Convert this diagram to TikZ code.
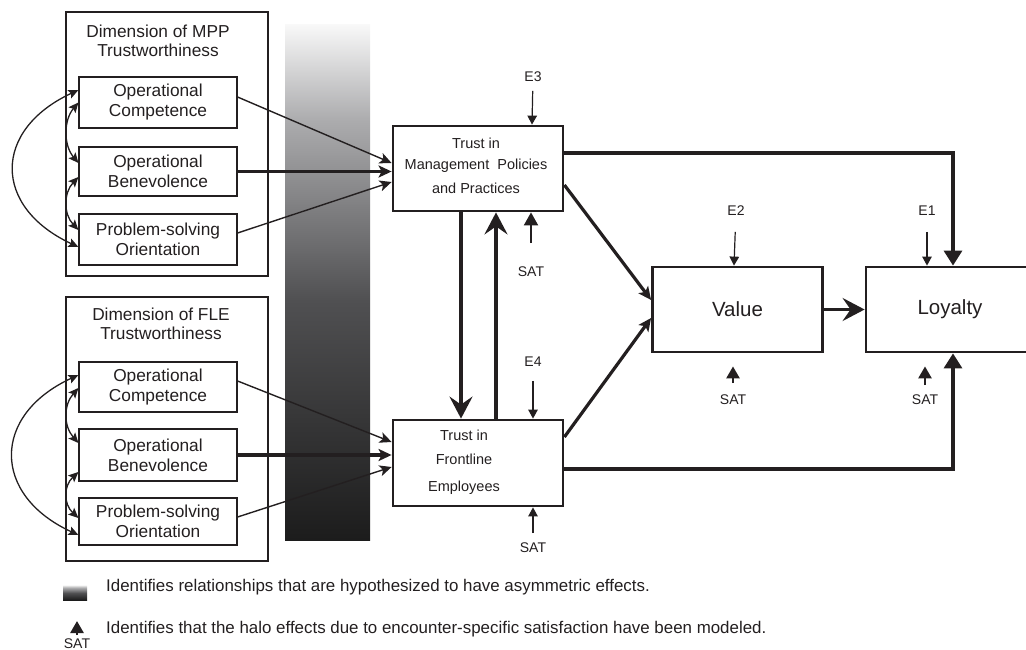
\documentclass[tikz,border=0pt]{standalone}
\usepackage{fontspec}
\setmainfont{Liberation Sans}
\usetikzlibrary{arrows.meta}
\definecolor{tqInk}{HTML}{231F20}
\definecolor{tqShadeA}{HTML}{F8F8F8}
\definecolor{tqShadeB}{HTML}{ACACAE}
\definecolor{tqShadeC}{HTML}{505052}
\definecolor{tqShadeD}{HTML}{1C1C1C}
% band runs 25bp (bottom) to 75bp (top), as TikZ stretches it
\pgfdeclareverticalshading{tqasym}{100bp}{color(0bp)=(tqShadeD); color(25bp)=(tqShadeD); color(48.3bp)=(tqShadeC); color(65.8bp)=(tqShadeB); color(75bp)=(tqShadeA); color(100bp)=(tqShadeA)}
\tikzset{
  tq dim/.style={draw=tqInk, line width=2.8pt, minimum width=202pt, minimum height=264pt, inner sep=0pt},
  tq title/.style={align=center, text=tqInk, font=\fontsize{17.3}{19}\selectfont},
  tq facet/.style={draw=tqInk, line width=1.2pt, minimum width=158pt, align=center, text=tqInk, font=\fontsize{17.3}{20}\selectfont},
  tq trust/.style={draw=tqInk, line width=2.8pt, minimum width=170pt, minimum height=85pt},
  tq trust text/.style={align=center, text=tqInk},
  tq construct/.style={draw=tqInk, line width=2.8pt, minimum width=170pt, minimum height=85pt, text=tqInk, font=\fontsize{20.5}{24}\selectfont},
  tq tag/.style={inner sep=0pt, outer sep=0pt, text=tqInk, font=\fontsize{14}{16}\selectfont},
  tq legend/.style={anchor=west, inner sep=0pt, text=tqInk, font=\fontsize{16.9}{19}\selectfont},
  tq curve/.style={draw=tqInk, line width=1.3pt, {Stealth[length=10pt,width=9pt,inset=2pt]}-{Stealth[length=10pt,width=9pt,inset=2pt]}},
  tq thin/.style={draw=tqInk, line width=1.4pt, -{Stealth[length=12pt,width=11pt,inset=3pt]}},
  tq thick/.style={draw=tqInk, line width=3.2pt, -{Stealth[length=13pt,width=12pt,inset=3pt]}},
  tq bold/.style={draw=tqInk, line width=3.3pt, -{Stealth[length=22pt,width=23pt,inset=8pt]}},
  tq loyal/.style={draw=tqInk, line width=3.3pt, -{Triangle[length=15pt,width=18pt]}},
  tq err/.style={draw=tqInk, line width=1.2pt, -{Triangle[length=9pt,width=9.5pt]}},
  tq halo/.style={draw=tqInk, line width=2.6pt, -{Triangle[length=12pt,width=13pt]}},
}

\begin{document}
\begin{tikzpicture}[x=1pt, y=-1pt, line join=miter]
  \useasboundingbox (0,0) rectangle (1026,650);
  \clip (0,0) rectangle (1026,650);

  % asymmetric-effects band
  \shade[shading=tqasym] (285,25) rectangle (370,540);

  % MPP trustworthiness block
  \node[tq dim] (mppDim) at (167,144) {};
  \node[tq title] (mppTitle) at (158,41) {Dimension of MPP\\Trustworthiness};
  \node[tq facet, minimum height=51pt] (mppOC) at (158,102.5) {Operational\\Competence};
  \node[tq facet, minimum height=49pt] (mppOB) at (158,171.5) {Operational\\Benevolence};
  \node[tq facet, minimum height=51pt] (mppPS) at (158,239.5) {Problem-solving\\Orientation};
  \draw[tq curve] ([yshift=12.5pt]mppOC.west) .. controls +(-86,40) and +(-86,-40) .. ([yshift=-7.5pt]mppPS.west);
  \draw[tq curve] (mppOC.west) .. controls +(-15,18) and +(-15,-18) .. ([yshift=8.5pt]mppOB.west);
  \draw[tq curve] ([yshift=-5.5pt]mppOB.west) .. controls +(-15,16) and +(-15,-16) .. ([yshift=9.5pt]mppPS.west);

  % FLE trustworthiness block
  \node[tq dim] (fleDim) at (167,429) {};
  \node[tq title] (fleTitle) at (161,323.5) {Dimension of FLE\\Trustworthiness};
  \node[tq facet, minimum height=50pt] (fleOC) at (158,387) {Operational\\Competence};
  \node[tq facet, minimum height=52pt] (fleOB) at (158,455) {Operational\\Benevolence};
  \node[tq facet, minimum height=47pt] (flePS) at (158,521.5) {Problem-solving\\Orientation};
  \draw[tq curve] ([yshift=12pt]fleOC.west) .. controls +(-87,40) and +(-87,-40) .. ([yshift=-13.5pt]flePS.west);
  \draw[tq curve] ([yshift=-1pt]fleOC.west) .. controls +(-15,17) and +(-15,-17) .. ([yshift=12pt]fleOB.west);
  \draw[tq curve] ([yshift=-17pt]fleOB.west) .. controls +(-15,14) and +(-15,-14) .. ([yshift=3.5pt]flePS.west);

  % trust constructs
  \node[tq trust] (mppTrust) at (478,168.5) {};
  \node[tq trust text, font=\fontsize{14.5}{21}\selectfont] (mppTrustTxt) at (476,166) {Trust in\\Management~ Policies\\[3pt]and Practices};
  \node[tq trust, minimum height=86pt] (fleTrust) at (478,463) {};
  \node[tq trust text, font=\fontsize{14.5}{24}\selectfont] (fleTrustTxt) at (464,462.5) {Trust in\\Frontline\\[3pt]Employees};

  \node[tq construct] (value) at (737.5,309.5) {Value};
  \node[tq construct, minimum width=168pt] (loyalty) at (950,309.5) {Loyalty};

  % facets to trust
  \draw[tq thin] ([yshift=5.5pt]mppOC.east) -- ([yshift=5.5pt]mppTrust.west);
  \draw[tq thick] (mppOB.east) -- ([yshift=-3pt]mppTrust.west);
  \draw[tq thin] ([yshift=6.5pt]mppPS.east) -- ([yshift=-13.5pt]mppTrust.west);
  \draw[tq thin] ([yshift=6pt]fleOC.east) -- ([yshift=21pt]fleTrust.west);
  \draw[tq thick] (fleOB.east) -- ([yshift=8pt]fleTrust.west);
  \draw[tq thin] ([yshift=4.5pt]flePS.east) -- ([yshift=-4pt]fleTrust.west);

  % between the trust constructs
  \draw[tq bold] ([xshift=-17pt]mppTrust.south) -- ([xshift=-17pt]fleTrust.north);
  \draw[tq bold] ([xshift=18pt]fleTrust.north) -- ([xshift=18pt]mppTrust.south);

  % to value and loyalty
  \draw[tq thick] ([yshift=-16.5pt]mppTrust.east) -- ([yshift=9.5pt]value.west);
  \draw[tq thick] ([yshift=26pt]fleTrust.east) -- ([yshift=-8.5pt]value.west);
  \draw[tq bold] (value) -- (loyalty);
  \draw[tq loyal] ([yshift=15.5pt]mppTrust.east) -| ([xshift=3pt]loyalty.north);
  \draw[tq loyal] ([yshift=-6pt]fleTrust.east) -| ([xshift=3pt]loyalty.south);

  % error terms
  \node[tq tag] (e3) at (533,77) {E3};
  \node[tq tag] (e4) at (533,362) {E4};
  \node[tq tag] (e2) at (736,211) {E2};
  \node[tq tag] (e1) at (927,211) {E1};
  \draw[tq err, shorten <=9pt] (e3) -- ([xshift=54pt]mppTrust.north);
  \draw[tq err, shorten <=14pt] (e4) -- ([xshift=55pt]fleTrust.north);
  \draw[tq err, shorten <=16pt] (e2) -- ([xshift=-3.5pt]value.north);
  \draw[tq err, shorten <=16pt] (e1) -- ([xshift=-23pt]loyalty.north);

  % encounter satisfaction
  \node[tq tag] (satMpp) at (531,272) {SAT};
  \node[tq tag] (satFle) at (533,548) {SAT};
  \node[tq tag] (satValue) at (733,400) {SAT};
  \node[tq tag] (satLoyal) at (925,400) {SAT};
  \draw[tq halo, line width=2pt, -{Triangle[length=13pt,width=14pt]}, shorten <=24pt] (satMpp) -- ([xshift=53pt]mppTrust.south);
  \draw[tq err, shorten <=10pt] (satFle) -- ([xshift=55pt]fleTrust.south);
  \draw[tq halo, shorten <=12pt] (satValue) -- ([xshift=-4.5pt, yshift=-13pt]value.south);
  \draw[tq halo, shorten <=10pt] (satLoyal) -- ([xshift=-25pt, yshift=-13pt]loyalty.south);

  % legend
  \shade[shading=tqasym] (63,585) rectangle (87,600);
  \node[tq legend] (legShade) at (106,587) {Identifies relationships that are hypothesized to have asymmetric effects.};
  \node[tq tag] (legSat) at (77,644) {SAT};
  \coordinate (legTip) at (77,621);
  \draw[tq halo, shorten <=4pt] (legSat) -- (legTip);
  \node[tq legend] (legHalo) at (106,629) {Identifies that the halo effects due to encounter-specific satisfaction have been modeled.};
\end{tikzpicture}
\end{document}
